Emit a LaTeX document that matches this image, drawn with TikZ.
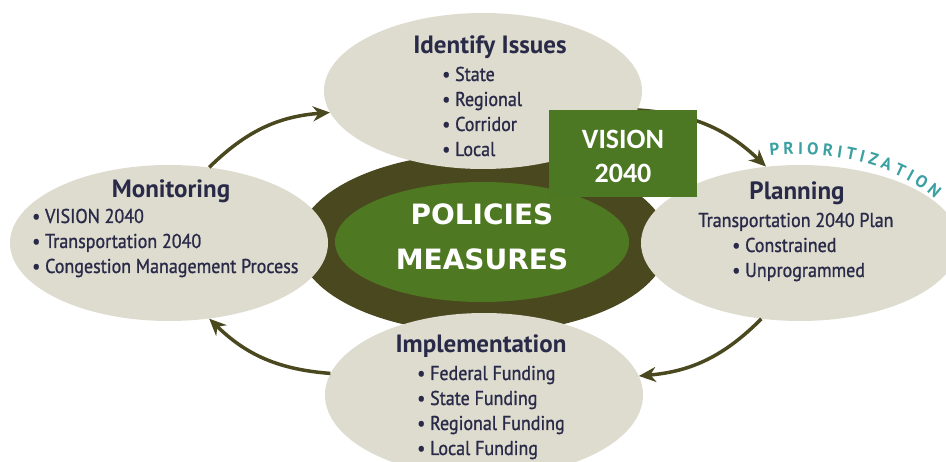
\documentclass[tikz,border=0pt]{standalone}
\usepackage{fontspec}
\usepackage{tikz}
\usetikzlibrary{arrows.meta,positioning,shapes,decorations.text}
\newfontfamily\labfont{PT Sans}
\newfontfamily\itemfont[FakeStretch=0.9,FakeBold=1]{PT Sans}
\newfontfamily\boxfont{Carlito}
\newfontfamily\midfont{DejaVu Sans}
\definecolor{bubble}{RGB}{222,219,207}
\definecolor{olive}{RGB}{74,72,30}
\definecolor{leaf}{RGB}{78,121,34}
\definecolor{boxgreen}{RGB}{76,120,36}
\definecolor{ink}{RGB}{40,42,72}
\definecolor{prio}{RGB}{58,160,162}
\newcommand{\prifont}{\labfont\bfseries\fontsize{17}{17}\selectfont}

\begin{document}
\begin{tikzpicture}[x=1pt,y=1pt,>={Stealth[length=17pt,width=15pt]},
ell/.style={ellipse,fill=bubble,draw=none,inner sep=0pt,minimum width=318pt,minimum height=156pt},
head/.style={font=\labfont\bfseries\fontsize{25}{30}\selectfont,text=ink,anchor=base,inner sep=0pt},
list/.style={font=\itemfont\fontsize{20}{25}\selectfont,text=ink,anchor=base west,inner sep=0pt},
loop/.style={->,line width=3.5pt,draw=olive}]
\useasboundingbox (0,0) rectangle (946,-462);

% centre
\node[ellipse,fill=olive,inner sep=0pt,minimum width=370pt,minimum height=180pt] (core) at (483,-243) {};
\node[ellipse,fill=leaf,inner sep=0pt,minimum width=294pt,minimum height=120pt] (pol) at (482,-242) {};
\node[font=\midfont\bfseries\fontsize{28}{45}\selectfont,text=white,anchor=base,inner sep=0pt] (polT) at (482,-225)
  {\begin{tabular}[t]{@{}c@{}}POLICIES\\MEASURES\end{tabular}};

% the four steps
\node[ell] (iss) at (483,-91) {};
\node[ell] (pla) at (800,-243) {};
\node[ell,minimum height=164pt] (imp) at (484,-395) {};
\node[ell] (mon) at (169,-243) {};

\draw[loop] (mon.62) to[bend left=20] (iss.188);
\draw[loop] (iss.-7) to[bend left=20] (pla.114);
\draw[loop] (pla.243) to[bend left=20] (imp.7);
\draw[loop] (imp.172) to[bend left=20] (mon.-62);

\node[head] (issT) at (490,-54) {Identify Issues};
\node[list] (issL) at (442,-81) {\begin{tabular}[t]{@{}l@{}}\textbullet\ State\\\textbullet\ Regional\\\textbullet\ Corridor\\\textbullet\ Local\end{tabular}};

\node[head] (plaT) at (797,-200) {Planning};
\node[list,anchor=base] (plaS) at (796,-227) {Transportation 2040 Plan};
\node[list] (plaL) at (732,-252) {\begin{tabular}[t]{@{}l@{}}\textbullet\ Constrained\\\textbullet\ Unprogrammed\end{tabular}};

\node[head] (impT) at (481,-353) {Implementation};
\node[list] (impL) at (417,-380) {\begin{tabular}[t]{@{}l@{}}\textbullet\ Federal Funding\\\textbullet\ State Funding\\\textbullet\ Regional Funding\\\textbullet\ Local Funding\end{tabular}};

\node[head] (monT) at (171,-198) {Monitoring};
\node[list] (monL) at (32,-223) {\begin{tabular}[t]{@{}l@{}}\textbullet\ VISION 2040\\\textbullet\ Transportation 2040\\\textbullet\ Congestion Management Process\end{tabular}};

\path[decorate,decoration={text along path,text={|\prifont|PRIORITIZATION},text align={fit to path},text color=prio}]
  (770,-156) arc[start angle=99.7,end angle=32,x radius=162,y radius=95];

% label box
\node[rectangle,fill=boxgreen,minimum width=148pt,minimum height=87pt,inner sep=0pt,text=white,
  font=\boxfont\bfseries\fontsize{28}{34}\selectfont,text height=20pt,text depth=29pt] (vis) at (623,-153.5)
  {\begin{tabular}[t]{@{}c@{}}VISION\\2040\end{tabular}};
\end{tikzpicture}
\end{document}
